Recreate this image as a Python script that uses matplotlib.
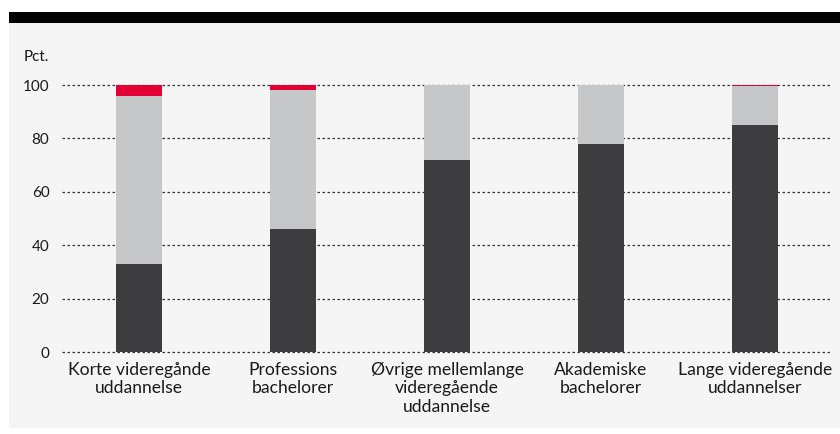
import matplotlib
matplotlib.use("Agg")
import matplotlib.pyplot as plt
from matplotlib.patches import Rectangle
import numpy as np

categories = ["Korte videregånde\nuddannelse", "Professions\nbachelorer",
              "Øvrige mellemlange\nvideregående\nuddannelse", "Akademiske\nbachelorer",
              "Lange videregående\nuddannelser"]
dark_vals = [33, 46, 72, 78, 85]
grey_vals = [63, 52, 28, 22, 14.8]
red_vals = [4, 2, 0, 0, 0.2]
yticks = [0, 20, 40, 60, 80, 100]

W, H = 840, 434
fig = plt.figure(figsize=(W/100, H/100), dpi=100, facecolor="white")
plt.rcParams['font.family'] = ['Lato', 'DejaVu Sans']

# panel background and top black bar
fig.patches.append(Rectangle((9/W, 6/H), (W-9)/W, (H-23-6)/H, transform=fig.transFigure,
                             facecolor="#f5f5f5", edgecolor="none", zorder=-1))
fig.patches.append(Rectangle((9/W, (H-23)/H), (W-9)/W, 11/H, transform=fig.transFigure,
                             facecolor="black", edgecolor="none", zorder=-1))

ax = fig.add_axes([62/W, 82/H, 770/W, 267/H])
ax.set_zorder(2)
ax.set_facecolor("none")
x = np.arange(len(categories))
bw = 0.305
dark = np.array(dark_vals); grey = np.array(grey_vals); red = np.array(red_vals)
ax.bar(x, dark, bw, color="#3d3d3f", zorder=3)
ax.bar(x, grey, bw, bottom=dark, color="#c6c7c9", zorder=3)
ax.bar(x, red, bw, bottom=dark+grey, color="#e30034", zorder=3)

ax.set_xlim(-0.5, len(categories)-0.5)
ax.set_ylim(0, 100)
ax.set_yticks(yticks)
ax.set_yticklabels([str(t) for t in yticks])
for t in yticks:
    ax.axhline(t, color="#333333", linestyle=(0, (2, 2)), linewidth=0.9, zorder=2, clip_on=False)
ax.set_xticks(x)
ax.set_xticklabels(categories, fontsize=12.6, color="#1a1a1a", linespacing=1.2)
ax.tick_params(axis="both", length=0, colors="#1a1a1a")
ax.tick_params(axis="y", pad=9, labelsize=11)
ax.tick_params(axis="x", pad=7)
for s in ax.spines.values():
    s.set_visible(False)

fig.text(24/W, 1-57/H, "Pct.", fontsize=11, color="#1a1a1a", ha="left", va="center")

fig.savefig("out.png", dpi=100, facecolor="white")
